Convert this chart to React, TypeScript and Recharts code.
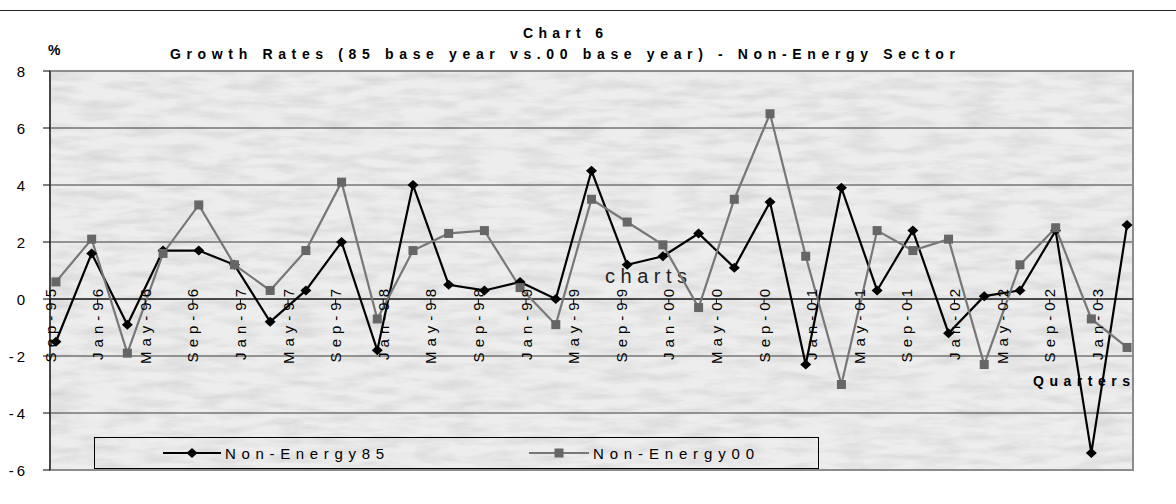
import React from 'react';
import { LineChart, Line, XAxis, YAxis, CartesianGrid, ReferenceLine, ReferenceArea } from 'recharts';

// quarterly observations, Sep-95 .. Mar-03
const quarters = [
  'Sep-95', 'Dec-95',
  'Mar-96', 'Jun-96', 'Sep-96', 'Dec-96',
  'Mar-97', 'Jun-97', 'Sep-97', 'Dec-97',
  'Mar-98', 'Jun-98', 'Sep-98', 'Dec-98',
  'Mar-99', 'Jun-99', 'Sep-99', 'Dec-99',
  'Mar-00', 'Jun-00', 'Sep-00', 'Dec-00',
  'Mar-01', 'Jun-01', 'Sep-01', 'Dec-01',
  'Mar-02', 'Jun-02', 'Sep-02', 'Dec-02',
  'Mar-03',
];

const nonEnergy85 = [
  -1.5, 1.6, -0.9, 1.7, 1.7, 1.2, -0.8, 0.3, 2.0, -1.8, 4.0, 0.5, 0.3, 0.6, 0.0, 4.5,
  1.2, 1.5, 2.3, 1.1, 3.4, -2.3, 3.9, 0.3, 2.4, -1.2, 0.1, 0.3, 2.4, -5.4, 2.6,
];

const nonEnergy00 = [
  0.6, 2.1, -1.9, 1.6, 3.3, 1.2, 0.3, 1.7, 4.1, -0.7, 1.7, 2.3, 2.4, 0.4, -0.9, 3.5,
  2.7, 1.9, -0.3, 3.5, 6.5, 1.5, -3.0, 2.4, 1.7, 2.1, -2.3, 1.2, 2.5, -0.7, -1.7,
];

// axis labels every four months
const tickLabels = [
  'Sep-95', 'Jan-96', 'May-96', 'Sep-96', 'Jan-97', 'May-97', 'Sep-97', 'Jan-98',
  'May-98', 'Sep-98', 'Jan-99', 'May-99', 'Sep-99', 'Jan-00', 'May-00', 'Sep-00',
  'Jan-01', 'May-01', 'Sep-01', 'Jan-02', 'May-02', 'Sep-02', 'Jan-03',
];

const yTicks = [-6, -4, -2, 0, 2, 4, 6, 8];

const MONTHS = ['Jan', 'Feb', 'Mar', 'Apr', 'May', 'Jun', 'Jul', 'Aug', 'Sep', 'Oct', 'Nov', 'Dec'];

// months elapsed since Sep-95
function monthIndex(label: string) {
  const [mon, yy] = label.split('-');
  const n = parseInt(yy, 10);
  const year = n > 50 ? 1900 + n : 2000 + n;
  return (year - 1995) * 12 + MONTHS.indexOf(mon) - 8;
}

const X_MAX = 91;
const Y_MIN = -6;
const Y_MAX = 8;

const W = 1176;
const H = 504;
const TOP = 71;
const LEFT = 50;
const RIGHT = 43;
const BOTTOM = 34;
const PLOT_H = H - TOP - BOTTOM;
const ZERO_Y = TOP + (PLOT_H * Y_MAX) / (Y_MAX - Y_MIN);

const FONT = "'Liberation Sans', Arial, sans-serif";
const GREY = '#777777';

// each quarter sits in the middle of its month slot
const data = quarters.map((q, i) => ({
  q,
  m: monthIndex(q) + 0.5,
  ne85: nonEnergy85[i],
  ne00: nonEnergy00[i],
}));

const tickMonths = tickLabels.map(monthIndex);

const Diamond = ({ cx, cy }: any) =>
  cx == null ? null : (
    <polygon points={`${cx},${cy - 5} ${cx + 5.5},${cy} ${cx},${cy + 5} ${cx - 5.5},${cy}`} fill="#000" />
  );

const Square = ({ cx, cy }: any) =>
  cx == null ? null : <rect x={cx - 4.5} y={cy - 4.5} width={9} height={9} fill="#666" />;

const XTick = ({ x, payload }: any) => {
  const label = tickLabels[tickMonths.indexOf(payload.value)];
  return (
    <g>
      <line x1={x} x2={x} y1={ZERO_Y} y2={ZERO_Y + 5} stroke="#000" />
      <text
        transform={`translate(${x + 5.5},${ZERO_Y - 15}) rotate(-90)`}
        textAnchor="end"
        fontSize={15}
        letterSpacing={5}
        fontFamily={FONT}
        fill="#000"
      >
        {label}
      </text>
    </g>
  );
};

const YTick = ({ y, payload }: any) => (
  <text x={28} y={y + 5.5} textAnchor="end" fontSize={15} letterSpacing={3} fontFamily={FONT} fill="#000">
    {payload.value}
  </text>
);

export default function App() {
  return (
    <div style={{ position: 'absolute', left: 0, top: 0, width: W, height: H, background: '#fff' }}>
      <LineChart width={W} height={H} data={data} margin={{ top: TOP, right: RIGHT, bottom: 0, left: 0 }}>
        <defs>
          {/* grainy marbled paper behind the plot */}
          <filter id="grain" x="0" y="0" width="100%" height="100%">
            <feTurbulence type="fractalNoise" baseFrequency="0.025 0.11" numOctaves={5} seed={11} />
            <feColorMatrix
              type="matrix"
              values="0 0 0 0 0.5  0 0 0 0 0.5  0 0 0 0 0.5  0.8 0 0 0 -0.3"
            />
          </filter>
          <pattern id="paper" patternUnits="userSpaceOnUse" x={0} y={0} width={W} height={H}>
            <rect width={W} height={H} fill="#ededed" />
            <rect width={W} height={H} filter="url(#grain)" />
          </pattern>
        </defs>

        <CartesianGrid vertical={false} stroke="#3a3a3a" fill="url(#paper)" fillOpacity={1} />
        <ReferenceArea x1={0} x2={X_MAX} y1={Y_MIN} y2={Y_MAX} fill="none" stroke="#8c8c8c" strokeWidth={2} />
        <ReferenceLine y={0} stroke="#000" />

        <XAxis
          type="number"
          dataKey="m"
          domain={[0, X_MAX]}
          ticks={tickMonths}
          interval={0}
          height={BOTTOM}
          axisLine={false}
          tickLine={false}
          tick={<XTick />}
        />
        <YAxis
          domain={[Y_MIN, Y_MAX]}
          ticks={yTicks}
          width={LEFT}
          interval={0}
          tickSize={7}
          axisLine={{ stroke: '#000' }}
          tickLine={{ stroke: '#000' }}
          tick={<YTick />}
        />

        <Line dataKey="ne85" stroke="#000" strokeWidth={2.2} dot={<Diamond />} isAnimationActive={false} />
        <Line dataKey="ne00" stroke={GREY} strokeWidth={2.2} dot={<Square />} isAnimationActive={false} />

        <line x1={0} x2={W} y1={10.5} y2={10.5} stroke="#222" />
        <text x={523} y={38} fontSize={14} fontWeight="bold" fontFamily={FONT} textLength={80} lengthAdjust="spacing">
          Chart 6
        </text>
        <text x={170} y={59} fontSize={14} fontWeight="bold" fontFamily={FONT} textLength={785} lengthAdjust="spacing">
          Growth Rates (85 base year vs.00 base year) - Non-Energy Sector
        </text>
        <text x={48} y={55} fontSize={14} fontWeight="bold" fontFamily={FONT}>
          %
        </text>
        <text x={605} y={283} fontSize={20} fontFamily={FONT} fill="#222" textLength={82} lengthAdjust="spacing">
          charts
        </text>
        <text x={1033} y={386} fontSize={14} fontWeight="bold" fontFamily={FONT} textLength={97} lengthAdjust="spacing">
          Quarters
        </text>

        <g>
          <rect x={94.5} y={437.5} width={724} height={31} fill="none" stroke="#000" />
          <line x1={163} x2={221} y1={453} y2={453} stroke="#000" strokeWidth={2.2} />
          <Diamond cx={192} cy={453} />
          <text x={225} y={458.5} fontSize={15} fontFamily={FONT} textLength={159} lengthAdjust="spacing">
            Non-Energy85
          </text>
          <line x1={529} x2={589} y1={453} y2={453} stroke={GREY} strokeWidth={2.2} />
          <Square cx={559} cy={453} />
          <text x={593} y={458.5} fontSize={15} fontFamily={FONT} textLength={161} lengthAdjust="spacing">
            Non-Energy00
          </text>
        </g>
      </LineChart>
    </div>
  );
}
